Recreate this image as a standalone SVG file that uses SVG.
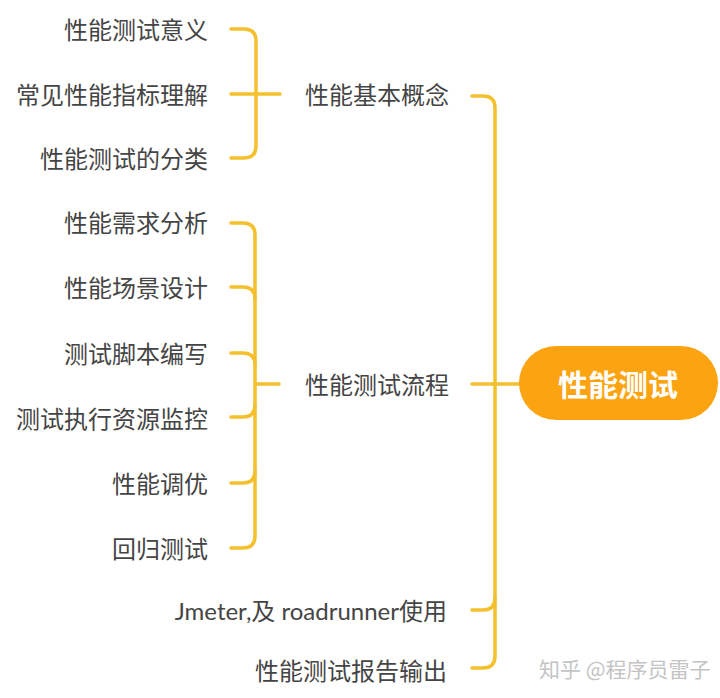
<svg xmlns="http://www.w3.org/2000/svg" width="720" height="698" viewBox="0 0 720 698">
<style>
.t{font-family:Lato,"Noto Sans CJK SC",sans-serif;font-size:24px;fill:#454545;dominant-baseline:central}
.r{text-anchor:end}
.ln{fill:none;stroke:#F4C02E;stroke-width:3.5;stroke-linecap:round}
.root{font-family:"Noto Sans CJK SC",sans-serif;font-size:30px;font-weight:bold;fill:#fff;text-anchor:middle;dominant-baseline:central}
.wm{font-family:"Noto Sans CJK SC",sans-serif;font-size:21px;fill:#c4c4c4;dominant-baseline:central}
</style>
<rect width="720" height="698" fill="#fff"/>
<g id="connectors">
<!-- group 1 -->
<path class="ln" d="M231,29 H244 Q256,29 256,41 V146 Q256,158 244,158 H231"/>
<path class="ln" d="M231,94 H280"/>
<!-- group 2 -->
<path class="ln" d="M231,223 H243 Q255,223 255,235 V536 Q255,548 243,548 H231"/>
<path class="ln" d="M231,287 H243 Q255,287 255,299"/>
<path class="ln" d="M231,353 H243 Q255,353 255,365"/>
<path class="ln" d="M231,417 H243 Q255,417 255,405"/>
<path class="ln" d="M231,483 H243 Q255,483 255,471"/>
<path class="ln" d="M255,384 H279"/>
<!-- main -->
<path class="ln" d="M472,96 H483 Q495,96 495,108 V656 Q495,668 483,668 H472"/>
<path class="ln" d="M472,610 H483 Q495,610 495,598"/>
<path class="ln" d="M472,384 H520"/>
</g>
<g id="root">
<rect x="519" y="346" width="199" height="74" rx="37" fill="#FCA311"/>
<text class="root" x="618" y="383">性能测试</text>
</g>
<g id="n-concept"><text class="t" x="305" y="94">性能基本概念</text></g>
<g id="n-flow"><text class="t" x="305" y="384">性能测试流程</text></g>
<g id="n-jmeter"><text class="t r" x="447" y="610">Jmeter,及 roadrunner使用</text></g>
<g id="n-report"><text class="t r" x="447" y="670">性能测试报告输出</text></g>
<g id="n-c1"><text class="t r" x="208" y="29">性能测试意义</text></g>
<g id="n-c2"><text class="t r" x="208" y="94">常见性能指标理解</text></g>
<g id="n-c3"><text class="t r" x="208" y="158">性能测试的分类</text></g>
<g id="n-f1"><text class="t r" x="208" y="222">性能需求分析</text></g>
<g id="n-f2"><text class="t r" x="208" y="287">性能场景设计</text></g>
<g id="n-f3"><text class="t r" x="208" y="353">测试脚本编写</text></g>
<g id="n-f4"><text class="t r" x="208" y="418">测试执行资源监控</text></g>
<g id="n-f5"><text class="t r" x="208" y="483">性能调优</text></g>
<g id="n-f6"><text class="t r" x="208" y="548">回归测试</text></g>
<text class="wm" x="539" y="668">知乎 @程序员雷子</text>
</svg>
